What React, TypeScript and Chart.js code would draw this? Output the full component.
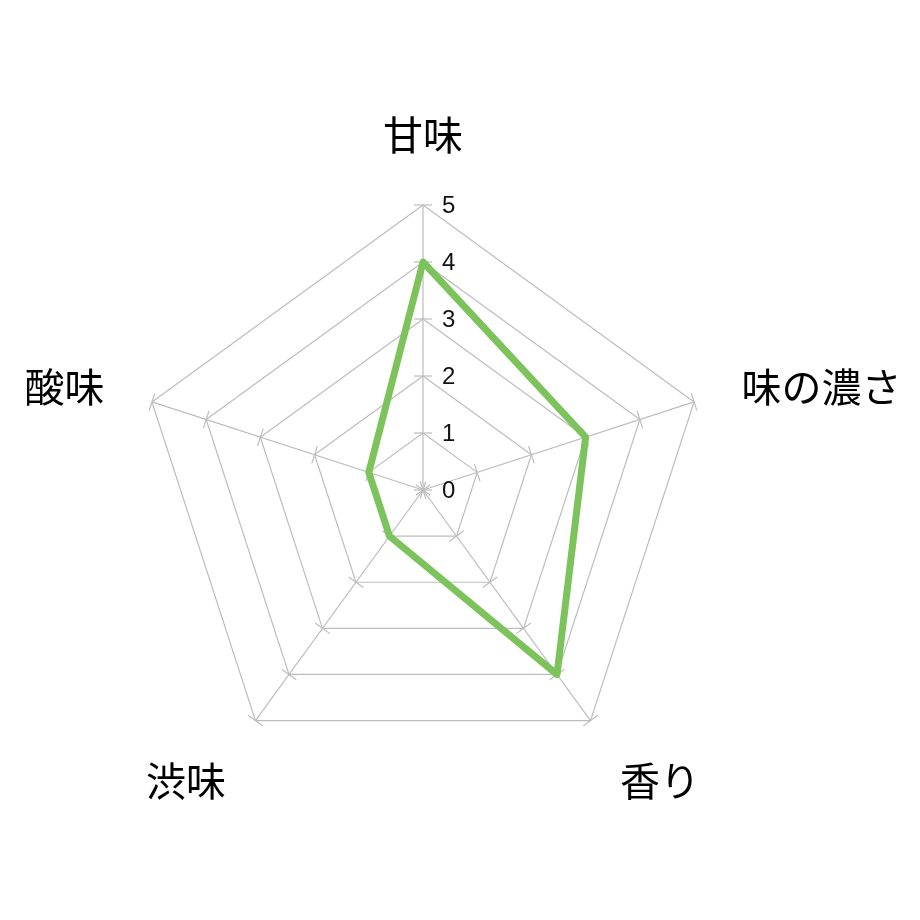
import React, { useEffect, useRef } from "react";
import { Chart, registerables } from "chart.js";

Chart.register(...registerables);

const categories = ["甘味", "味の濃さ", "香り", "渋味", "酸味"];
const seriesValues = [4, 3, 4, 1, 1];
const tickValues = [0, 1, 2, 3, 4, 5];

const GRID = "#bdbdbd";
const GREEN = "#7cc35c";

const decorPlugin = {
  id: "excelDecor",
  beforeDatasetsDraw(chart: any) {
    const scale = chart.scales.r;
    const ctx = chart.ctx;
    const cx = scale.xCenter;
    const cy = scale.yCenter;
    ctx.save();
    // tick marks on every axis
    ctx.strokeStyle = GRID;
    ctx.lineWidth = 1.2;
    for (let i = 0; i < categories.length; i++) {
      const far = scale.getPointPosition(i, 100);
      const dx = (far.x - cx) / 100;
      const dy = (far.y - cy) / 100;
      const px = -dy;
      const py = dx;
      for (const v of tickValues) {
        const p = scale.getPointPosition(i, scale.getDistanceFromCenterForValue(v));
        ctx.beginPath();
        ctx.moveTo(p.x - px * 9, p.y - py * 9);
        ctx.lineTo(p.x + px * 9, p.y + py * 9);
        ctx.stroke();
      }
    }
    // tick labels
    ctx.fillStyle = "#111";
    ctx.font = '24px "Liberation Sans", Arial, sans-serif';
    ctx.textAlign = "left";
    ctx.textBaseline = "middle";
    for (const v of tickValues) {
      const p = scale.getPointPosition(0, scale.getDistanceFromCenterForValue(v));
      ctx.fillText(String(v), p.x + 19, p.y + 1);
    }
    // point labels
    ctx.fillStyle = "#000";
    ctx.font = '40px "Noto Sans CJK JP", sans-serif';
    const r = scale.drawingArea;
    for (let i = 0; i < categories.length; i++) {
      const p = scale.getPointPosition(i, r + 50);
      const dx = (p.x - cx) / (r + 50);
      const dy = (p.y - cy) / (r + 50);
      ctx.textAlign = dx > 0.1 ? "left" : dx < -0.1 ? "right" : "center";
      ctx.textBaseline = dy < -0.5 ? "bottom" : dy > 0.5 ? "top" : "middle";
      ctx.fillText(categories[i], p.x, p.y);
    }
    ctx.restore();
  },
};

export default function App() {
  const canvasRef = useRef<HTMLCanvasElement | null>(null);

  useEffect(() => {
    if (!canvasRef.current) return;
    const chart = new Chart(canvasRef.current, {
      type: "radar",
      data: {
        labels: categories,
        datasets: [
          {
            data: seriesValues,
            borderColor: GREEN,
            borderWidth: 7,
            borderJoinStyle: "round",
            pointRadius: 0,
            pointHoverRadius: 0,
            fill: false,
            tension: 0,
          },
        ],
      },
      options: {
        animation: false,
        responsive: true,
        maintainAspectRatio: false,
        layout: { padding: { left: 138, right: 212, top: 205, bottom: 145 } },
        plugins: { legend: { display: false }, tooltip: { enabled: false } },
        scales: {
          r: {
            min: 0,
            max: 5,
            ticks: { display: false, stepSize: 1 },
            pointLabels: { display: false },
            grid: { color: GRID, lineWidth: 1.2 },
            angleLines: { color: GRID, lineWidth: 1.2 },
          },
        },
      },
      plugins: [decorPlugin],
    });
    return () => chart.destroy();
  }, []);

  return (
    <div
      style={{
        position: "fixed",
        left: 0,
        top: 0,
        width: 920,
        height: 920,
        background: "#fff",
      }}
    >
      <canvas ref={canvasRef} />
    </div>
  );
}
